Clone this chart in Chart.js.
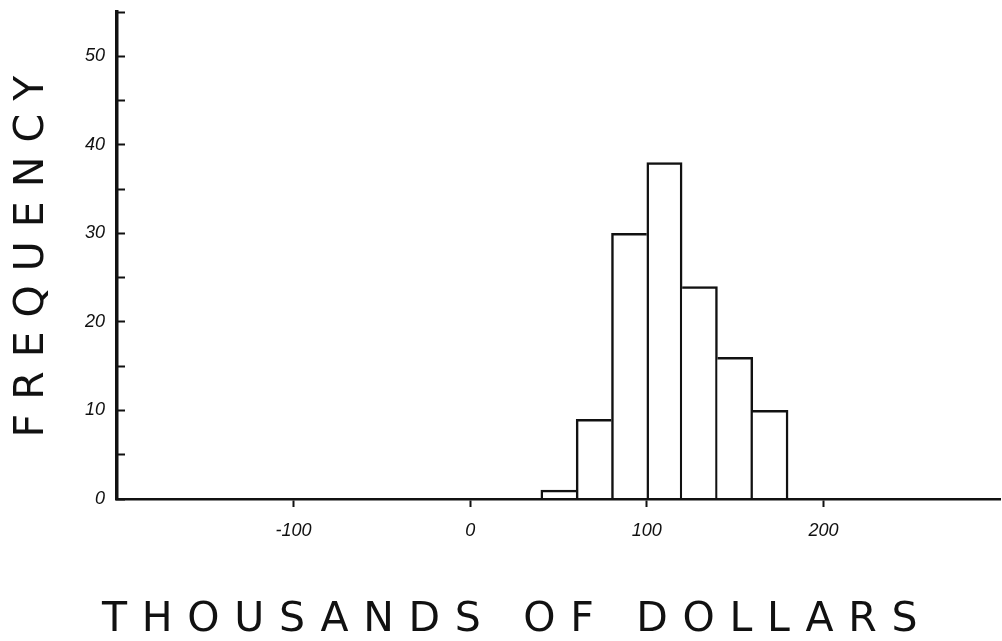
<!DOCTYPE html>
<html>
<head>
<meta charset="utf-8">
<title>Frequency histogram</title>
<script src="https://cdn.jsdelivr.net/npm/chart.js@4/dist/chart.umd.min.js"></script>
<style>
  html, body { margin: 0; padding: 0; background: #ffffff; }
  #wrap { width: 1002px; height: 641px; }
</style>
</head>
<body>
<div id="wrap"><canvas id="chart" width="1002" height="641"></canvas></div>
<script>
// Histogram bins (thousands of dollars) and their counts
const binEdges = [40, 60, 80, 100, 120, 140, 160, 180];
const frequencies = [1, 9, 30, 38, 24, 16, 10];

// Axis ranges and labelled ticks
const xRange = [-200, 300];
const xTickValues = [-100, 0, 100, 200];
const xTickLabels = ['-100', '0', '100', '200'];
const yRange = [0, 55];
const yTickStep = 5;
const yTickValues = [0, 10, 20, 30, 40, 50];
const yTickLabels = ['0', '10', '20', '30', '40', '50'];

const xTitle = 'THOUSANDS OF DOLLARS';
const yTitle = 'FREQUENCY';

const ink = '#111111';
const outline = 2.5;
const titleFont = { family: '"DejaVu Sans", "Liberation Sans", sans-serif', size: 41, weight: 'normal', lineHeight: 1 };
const tickFont = { family: '"Liberation Sans Narrow", "Liberation Sans", sans-serif', size: 18, style: 'italic' };

const points = frequencies.map((f, i) => ({ x: (binEdges[i] + binEdges[i + 1]) / 2, y: f }));

// A shared edge between neighbouring bars is drawn once, by the taller bar;
// the base sits on the axis line, which is drawn above the bars
function barEdges(ctx) {
  const i = ctx.dataIndex;
  const cur = frequencies[i];
  const prev = i > 0 ? frequencies[i - 1] : -1;
  const next = i < frequencies.length - 1 ? frequencies[i + 1] : -1;
  return {
    top: outline,
    bottom: 0,
    left: prev < cur ? outline : 0,
    right: next <= cur ? outline : 0
  };
}

// Draws scale titles with extra letter spacing and an optional nudge
const spacedTitles = {
  id: 'spacedTitles',
  beforeDraw(chart, args, opts) {
    Object.values(chart.scales).forEach(scale => {
      if (scale.__spaced) return;
      const drawTitle = scale.drawTitle;
      scale.drawTitle = function () {
        const o = opts[this.id] || {};
        const ctx = this.ctx;
        ctx.save();
        ctx.letterSpacing = (o.spacing || 0) + 'px';
        ctx.translate(o.dx || 0, o.dy || 0);
        drawTitle.call(this);
        ctx.restore();
      };
      scale.__spaced = true;
    });
  }
};

new Chart(document.getElementById('chart'), {
  type: 'bar',
  data: {
    datasets: [{
      data: points,
      backgroundColor: '#ffffff',
      borderColor: ink,
      borderWidth: barEdges,
      borderSkipped: false,
      barPercentage: 1,
      categoryPercentage: 1
    }]
  },
  options: {
    responsive: false,
    devicePixelRatio: 1,
    animation: false,
    layout: { padding: { top: 12, right: 2, left: 0, bottom: 0 } },
    plugins: {
      legend: { display: false },
      tooltip: { enabled: false },
      spacedTitles: {
        x: { spacing: 14.7, dx: -15, dy: 0 },
        y: { spacing: 14, dx: 0, dy: -6 }
      }
    },
    scales: {
      x: {
        type: 'linear',
        min: xRange[0],
        max: xRange[1],
        offset: false,
        afterFit: s => { s.height = 142; },
        afterBuildTicks: s => { s.ticks = xTickValues.map(v => ({ value: v })); },
        grid: {
          offset: false,
          drawOnChartArea: false,
          drawTicks: true,
          tickLength: 8,
          tickWidth: 2,
          tickColor: ink
        },
        border: { display: true, color: ink, width: 2.5, z: 1 },
        ticks: {
          color: ink,
          font: tickFont,
          padding: 13,
          maxRotation: 0,
          autoSkip: false,
          callback: v => {
            const i = xTickValues.indexOf(v);
            return i >= 0 ? xTickLabels[i] : '';
          }
        },
        title: {
          display: true,
          text: xTitle,
          color: ink,
          font: titleFont,
          align: 'start',
          padding: { top: 0, bottom: 0 }
        }
      },
      y: {
        type: 'linear',
        min: yRange[0],
        max: yRange[1],
        afterFit: s => { s.width = 117; s.paddingTop = 0; s.paddingBottom = 0; },
        grid: {
          drawOnChartArea: false,
          drawTicks: true,
          tickLength: -8,
          tickWidth: 2,
          tickColor: ink
        },
        border: { display: true, color: ink, width: 3.5 },
        ticks: {
          stepSize: yTickStep,
          color: ink,
          font: tickFont,
          padding: 20,
          autoSkip: false,
          callback: v => {
            const i = yTickValues.indexOf(v);
            return i >= 0 ? yTickLabels[i] : '';
          }
        },
        title: {
          display: true,
          text: yTitle,
          color: ink,
          font: titleFont,
          padding: { top: 12, bottom: 0 }
        }
      }
    }
  },
  plugins: [spacedTitles]
});
</script>
</body>
</html>
